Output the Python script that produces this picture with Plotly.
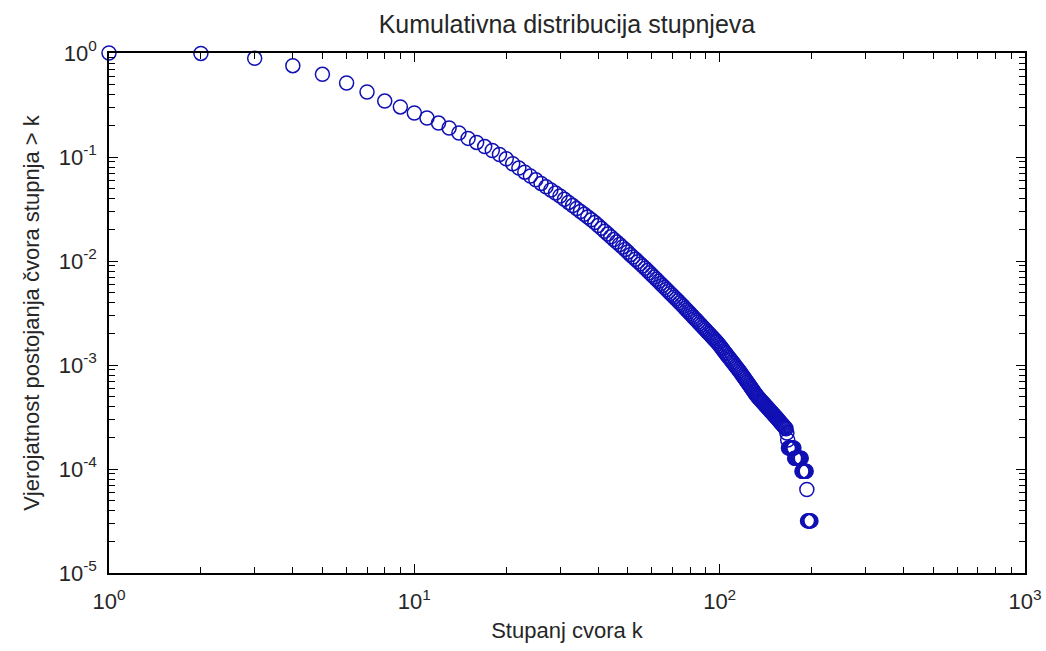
import plotly.graph_objects as go

# Cumulative degree distribution: P(degree > k) for each degree k
degree_k = list(range(1, 200))

prob_greater_k = [
    1.0, 0.99, 0.889, 0.755, 0.624, 0.515, 0.422, 0.345, 0.303, 0.265,
    0.237, 0.212, 0.190, 0.170, 0.151, 0.138, 0.126, 0.1155, 0.1057, 0.096,
    0.0861, 0.0783, 0.0715, 0.0655, 0.0603, 0.0557, 0.0518, 0.0482, 0.0450, 0.0422,
    0.0392, 0.0366, 0.0341, 0.0319, 0.0299, 0.0281, 0.0265, 0.0249, 0.0234, 0.0219,
    0.0206, 0.0193, 0.0182, 0.0171, 0.0161, 0.0152, 0.0144, 0.0136, 0.0129, 0.0122,
    0.0115, 0.0109, 0.0104, 0.00986, 0.00938, 0.00893, 0.00851, 0.00811, 0.00771, 0.00734,
    0.00700, 0.00667, 0.00637, 0.00608, 0.00581, 0.00556, 0.00532, 0.00509, 0.00488, 0.00468,
    0.00449, 0.00431, 0.00414, 0.00397, 0.00382, 0.00367, 0.00352, 0.00338, 0.00325, 0.00313,
    0.00301, 0.00290, 0.00279, 0.00269, 0.00259, 0.00249, 0.00241, 0.00232, 0.00224, 0.00217,
    0.00209, 0.00202, 0.00196, 0.00189, 0.00183, 0.00177, 0.00171, 0.00166, 0.00160, 0.00154,
    1.48e-3, 1.43e-3, 1.37e-3, 1.32e-3, 1.28e-3, 1.23e-3, 1.19e-3, 1.15e-3, 1.11e-3, 1.07e-3,
    1.04e-3, 1.00e-3, 9.68e-4, 9.36e-4, 9.06e-4, 8.75e-4, 8.47e-4, 8.17e-4, 7.89e-4, 7.62e-4,
    7.36e-4, 7.11e-4, 6.87e-4, 6.64e-4, 6.41e-4, 6.21e-4, 6.00e-4, 5.81e-4, 5.62e-4, 5.45e-4,
    5.27e-4, 5.11e-4, 4.97e-4, 4.84e-4, 4.73e-4, 4.62e-4, 4.51e-4, 4.41e-4, 4.31e-4, 4.20e-4,
    4.10e-4, 4.01e-4, 3.92e-4, 3.83e-4, 3.75e-4, 3.66e-4, 3.58e-4, 3.51e-4, 3.43e-4, 3.35e-4,
    3.28e-4, 3.21e-4, 3.14e-4, 3.07e-4, 3.01e-4, 2.94e-4, 2.88e-4, 2.82e-4, 2.76e-4, 2.70e-4,
    2.65e-4, 2.59e-4, 2.54e-4, 2.49e-4, 2.44e-4, 2.22e-4, 1.90e-4, 1.59e-4, 1.59e-4, 1.59e-4,
    1.59e-4, 1.59e-4, 1.59e-4, 1.59e-4, 1.59e-4, 1.27e-4, 1.27e-4, 1.27e-4, 1.27e-4, 1.27e-4,
    1.27e-4, 1.27e-4, 1.27e-4, 1.27e-4, 1.27e-4, 9.52e-5, 9.52e-5, 9.52e-5, 9.52e-5, 9.52e-5,
    9.52e-5, 9.52e-5, 6.35e-5, 3.17e-5, 3.17e-5, 3.17e-5, 3.17e-5, 3.17e-5, 3.17e-5,
]

x_decades = [0, 1, 2, 3]
y_decades = [0, -1, -2, -3, -4, -5]

chart_title = "Kumulativna distribucija stupnjeva"
x_label = "Stupanj cvora k"
y_label = "Vjerojatnost postojanja čvora stupnja > k"

FONT = "Liberation Sans, Arial, sans-serif"
TEXT_COLOR = "#262626"
MARK_COLOR = "#1010b4"


def sup_label(p):
    return "10<sup>%d</sup>" % p


def minor_vals(decades):
    lo, hi = min(decades), max(decades)
    return [m * 10 ** d for d in range(lo, hi) for m in range(2, 10)]


fig = go.Figure()
fig.add_trace(go.Scatter(
    x=degree_k,
    y=prob_greater_k,
    mode="markers",
    cliponaxis=False,
    marker=dict(symbol="circle-open", size=14,
                color=MARK_COLOR, line=dict(width=1.5, color=MARK_COLOR)),
    showlegend=False,
))

axis_common = dict(
    type="log",
    automargin=False,
    showgrid=False,
    zeroline=False,
    showline=True,
    linecolor="black",
    linewidth=1.5,
    mirror="allticks",
    ticks="inside",
    ticklen=9,
    tickwidth=1.2,
    tickcolor="black",
    tickmode="array",
    tickfont=dict(family=FONT, size=22, color=TEXT_COLOR),
)

fig.update_layout(
    width=1046,
    height=651,
    paper_bgcolor="white",
    plot_bgcolor="white",
    margin=dict(l=109, r=21, t=53, b=78),
    title=dict(text=chart_title, x=0.542, xanchor="center",
               yref="container", y=0.962, yanchor="middle",
               font=dict(family=FONT, size=25, color=TEXT_COLOR)),
    xaxis=dict(
        axis_common,
        range=[min(x_decades), max(x_decades)],
        tickvals=[10 ** p for p in x_decades],
        ticktext=[sup_label(p) for p in x_decades],
        ticklabelstandoff=8,
        minor=dict(tickmode="array", tickvals=minor_vals(x_decades),
                   ticks="inside", ticklen=6, tickwidth=1.1, tickcolor="black", showgrid=False),
        title=dict(text=x_label, standoff=9, font=dict(family=FONT, size=22, color=TEXT_COLOR)),
    ),
    yaxis=dict(
        axis_common,
        range=[min(y_decades), max(y_decades)],
        tickvals=[10 ** p for p in y_decades],
        ticktext=[sup_label(p) for p in y_decades],
        ticklabelstandoff=6,
        minor=dict(tickmode="array", tickvals=minor_vals(y_decades),
                   ticks="inside", ticklen=6, tickwidth=1.1, tickcolor="black", showgrid=False),
        title=dict(text=y_label, standoff=13, font=dict(family=FONT, size=22, color=TEXT_COLOR)),
    ),
)

fig.write_html("out.html")
